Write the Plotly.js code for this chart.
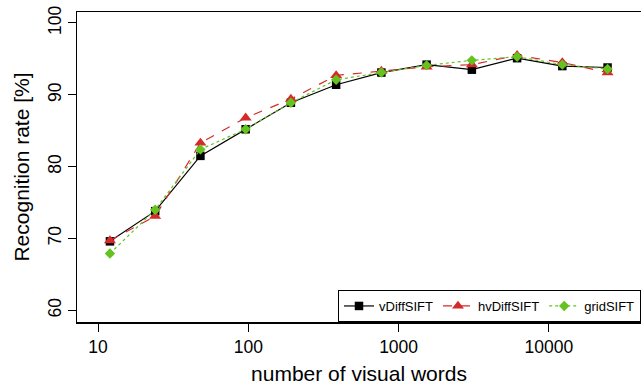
<!DOCTYPE html>
<html>
<head>
<meta charset="utf-8">
<script src="https://cdn.plot.ly/plotly-3.0.1.min.js"></script>
<style>html,body{margin:0;padding:0;background:#fff;}#chart{width:641px;height:385px;}</style>
</head>
<body>
<div id="chart"></div>
<script>
const visualWords = [12, 24, 48, 96, 192, 384, 768, 1536, 3072, 6144, 12288, 24576];
const vDiffSIFT  = [69.6, 73.8, 81.5, 85.2, 88.9, 91.4, 93.1, 94.2, 93.5, 95.1, 94.0, 93.8];
const hvDiffSIFT = [69.7, 73.1, 83.3, 86.8, 89.4, 92.7, 93.3, 93.9, 94.2, 95.5, 94.5, 93.1];
const gridSIFT   = [67.9, 74.0, 82.4, 85.2, 88.9, 92.1, 93.1, 94.1, 94.8, 95.3, 94.2, 93.6];
const xTickVals = [10, 100, 1000, 10000];
const xTickText = ["10", "100", "1000", "10000"];
const yTickVals = [60, 70, 80, 90, 100];

const FONT = "Liberation Sans, Arial, Helvetica, sans-serif";

const traces = [
  {x: visualWords, y: vDiffSIFT, name: "vDiffSIFT", type: "scatter", mode: "lines+markers",
   line: {color: "#000000", width: 1.2, dash: "solid"},
   marker: {symbol: "square", size: 8.5, color: "#000000"}},
  {x: visualWords, y: hvDiffSIFT, name: "hvDiffSIFT", type: "scatter", mode: "lines+markers",
   line: {color: "#D42A2A", width: 1.2, dash: "dash"},
   marker: {symbol: "triangle-up", size: 10.5, color: "#D42A2A"}},
  {x: visualWords, y: gridSIFT, name: "gridSIFT", type: "scatter", mode: "lines+markers",
   line: {color: "#66C21E", width: 1.2, dash: "dot"},
   marker: {symbol: "diamond", size: 8, color: "#66C21E"}}
];

const layout = {
  width: 641, height: 385,
  margin: {l: 77, r: 0, t: 12, b: 63},
  paper_bgcolor: "#ffffff", plot_bgcolor: "#ffffff",
  font: {family: FONT, color: "#000000", size: 17},
  showlegend: true,
  legend: {
    orientation: "h", x: 1, xanchor: "right", y: 0, yanchor: "bottom",
    bgcolor: "#ffffff", bordercolor: "#000000", borderwidth: 1,
    font: {family: FONT, size: 13, color: "#000000"},
    itemwidth: 30, traceorder: "normal"
  },
  xaxis: {
    type: "log", range: [0.86, 4.613],
    tickmode: "array", tickvals: xTickVals, ticktext: xTickText,
    ticks: "outside", ticklen: 8, tickwidth: 1, tickcolor: "#000",
    showgrid: false, zeroline: false,
    showline: true, linecolor: "#000", linewidth: 1.5, mirror: true,
    tickfont: {family: FONT, size: 17.5},
    title: {text: "number of visual words", font: {family: FONT, size: 21}, standoff: 12}
  },
  yaxis: {
    range: [58.37, 101.53],
    tickmode: "array", tickvals: yTickVals,
    ticks: "outside", ticklen: 8, tickwidth: 1, tickcolor: "#000",
    tickangle: -90,
    showgrid: false, zeroline: false,
    showline: true, linecolor: "#000", linewidth: 1.5, mirror: false,
    tickfont: {family: FONT, size: 17.5},
    title: {text: "Recognition rate [%]", font: {family: FONT, size: 21}, standoff: 9}
  }
};

Plotly.newPlot("chart", traces, layout, {displayModeBar: false, staticPlot: true});
</script>
</body>
</html>
